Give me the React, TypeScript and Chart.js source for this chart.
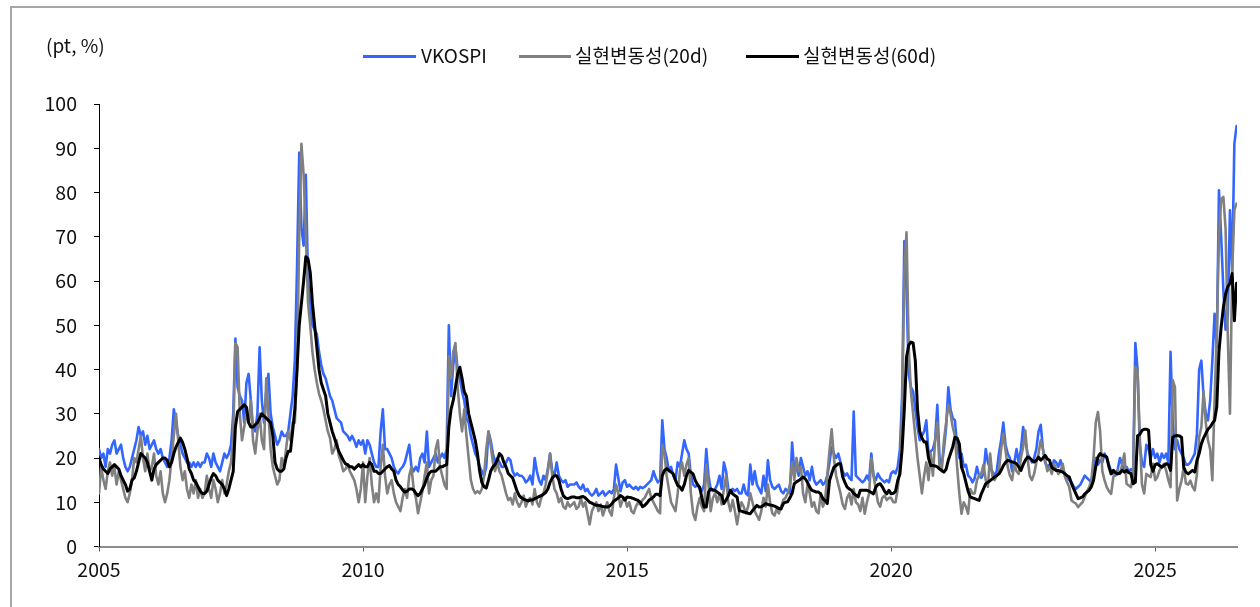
import React, { useEffect, useRef } from "react";
import { Chart, registerables } from "chart.js";

Chart.register(...registerables);

// ---- data (semi-monthly samples, 24 per year, starting Jan 2005) ----
const START_YEAR = 2005;
const POINTS_PER_YEAR = 24;
const X_MIN = 2005;
const X_MAX = 2026.55;
const xTickYears = [2005, 2010, 2015, 2020, 2025];
const Y_MIN = 0;
const Y_MAX = 100;
const Y_STEP = 10;
const unitLabel = "(pt, %)";
const seriesNames = ["VKOSPI", "실현변동성(20d)", "실현변동성(60d)"];

const vkospi = [
  22, 20, 21, 18, 22, 21, 23, 24, 21, 22, 23, 20, 18, 17, 18, 20, 22, 24, 27, 25, 26, 23, 25, 22, // 2005
  23, 24, 22, 21, 22, 20, 19, 18, 20, 24, 31, 28, 25, 23, 21, 20, 19, 19, 18, 19, 18, 19, 18, 19, // 2006
  19, 21, 20, 18, 21, 19, 18, 17, 19, 21, 20, 21, 23, 30, 47, 36, 34, 33, 28, 37, 39, 33, 27, 26, // 2007
  30, 45, 33, 28, 35, 39, 30, 27, 25, 23, 24, 26, 25, 25, 26, 30, 34, 42, 63, 89, 72, 68, 84, 60, // 2008
  55, 50, 49, 48, 44, 41, 39, 38, 36, 34, 33, 31, 29, 28.5, 28, 26, 25.5, 25, 24, 25, 24, 22.5, 24, 23, // 2009
  24, 21, 24, 23, 21, 19, 18, 18, 26, 31, 22, 22, 21, 20, 18, 17, 16.5, 17.5, 18, 19, 21, 23, 18, 17, // 2010
  18, 17, 20, 21, 19, 26, 18, 19, 20, 21, 19, 20, 21, 20, 22, 50, 34, 41, 45, 40, 38, 35, 33, 29, // 2011
  28, 25, 23, 21, 20, 18, 17, 16, 18, 26, 24, 21, 19, 20, 19, 18, 18, 19, 20, 19.5, 17, 16, 16.5, 16, // 2012
  16, 15.5, 14.5, 15, 16, 14, 20, 17, 15, 14, 16, 15, 17.5, 21, 17, 16, 19, 16, 15, 14.5, 15, 13.5, 14, 14, // 2013
  14, 14.5, 13.5, 13, 14, 12.5, 13, 12, 11.5, 12, 13, 11.5, 12, 12.5, 11.5, 12, 12.5, 12, 13, 18.5, 15.5, 12.5, 14.5, 15, // 2014
  13.5, 14, 13.4, 13, 13.5, 12.8, 13.5, 13.2, 13.5, 14, 14.5, 15, 17, 15.5, 14.5, 15, 28.5, 22, 20, 17, 18, 16, 15, 19, // 2015
  18, 21, 24, 22, 21, 16, 14, 13.5, 14, 13, 12.5, 14, 22, 16, 13, 12.5, 13, 14, 16, 13, 19, 17, 13, 12.5, // 2016
  13, 12.5, 13, 12, 12, 14, 12, 11.5, 18.5, 14, 17, 14, 13, 12, 16, 12.5, 19.5, 15, 13.5, 13, 13.5, 14, 12.5, 12, // 2017
  13, 12.5, 12, 23.5, 17, 18, 16, 20, 18, 16, 17, 15, 18, 15, 14, 14.5, 15, 14, 14.5, 16, 19, 22.5, 21, 20, // 2018
  21, 19, 17, 16, 16.5, 15.5, 15, 30.5, 16, 15.5, 15, 14.5, 15, 16, 15, 21, 16, 15, 16.5, 15.5, 15, 14.5, 15, 14.5, // 2019
  16.5, 17, 16.5, 18, 22, 34, 69, 58, 39, 36, 35, 31, 27, 24, 25, 26, 28.5, 21, 21.5, 22, 24, 32, 20, 18.5, // 2020
  22, 27, 36, 31, 29, 28.5, 22.5, 20, 21, 18, 18.5, 16, 15.5, 14.5, 15.5, 18, 16, 15.5, 16.5, 22, 19, 17.5, 17, 16, // 2021
  17, 21, 24, 28, 23, 21, 20, 17, 19, 22, 19, 22, 27, 24, 21, 20, 19, 20, 22, 26, 27.5, 22, 19, 18, // 2022
  18.5, 17, 19.5, 19, 18, 19.5, 17.5, 16.5, 15.5, 15, 14.5, 13.5, 13, 13.5, 14, 15, 16, 15.5, 15, 14.5, 17.5, 20, 18.5, 19.5, // 2023
  19, 21, 20, 18.5, 17, 16.5, 16, 17.5, 20, 18.5, 17, 18, 17, 17.5, 17, 46, 40, 23, 19, 18, 23, 22, 20, 22, // 2024
  20, 21, 19, 21, 20, 21, 19, 44, 28, 22, 24, 22, 21, 20, 18.5, 18.5, 19, 20, 21, 25.5, 40, 42, 34, 30, // 2025
  28.5, 33, 42, 52.6, 45, 80.5, 70, 58, 49, 52, 76, 62, 91, 95, // 2026
];

const rv20 = [
  12, 18, 15, 13, 17, 19, 16, 18, 14, 17, 15, 13, 11, 10, 12, 15, 20, 19, 22, 25, 20, 17, 21, 17, // 2005
  18, 21, 16, 14, 17, 12, 10, 12, 15, 20, 25, 30, 24, 18, 15, 17, 13, 11, 14, 12, 15, 11, 13, 11, // 2006
  12, 16, 13, 11, 15, 13, 10, 12, 15, 12, 14, 17, 19, 25, 46, 45, 30, 24, 27, 30, 28, 33, 24, 21, // 2007
  26, 30, 24, 22, 38, 30, 22, 18, 16, 14, 15, 20, 18, 22, 26, 24, 28, 28, 40, 70, 91, 84, 71, 55, // 2008
  50, 44, 40, 37, 34.5, 33, 31, 28.5, 26, 24.5, 21, 22, 24, 20.5, 19, 17, 17.5, 18.5, 17, 16, 15, 13, 10, 13, // 2009
  19, 10, 16, 20, 14, 10, 12, 10, 18, 23, 16, 12, 14, 15, 12, 10, 9, 8, 11, 13, 11, 16, 18, 13, // 2010
  11, 7.5, 10, 12.5, 16, 19, 12, 15, 16, 22, 24, 18, 16, 14, 13, 43, 38, 44, 46, 36, 30, 26, 31, 25, // 2011
  20, 15, 13, 12, 12.5, 12, 13, 16, 22, 26, 23, 19, 17, 19, 17, 16, 14, 12, 10.5, 11, 9.5, 12, 10, 9, // 2012
  10, 11.5, 9, 10.5, 11, 9.5, 13, 10, 9, 11, 12, 14, 17, 21, 16, 13, 12, 10, 11, 9, 8.5, 10, 9, 9.5, // 2013
  10, 8.5, 9, 11, 9, 10, 7.5, 5, 8, 9, 10, 8, 9.5, 7, 8.5, 10, 8, 7, 11, 14, 12, 9, 10.5, 11, // 2014
  9, 10, 8, 7.5, 9, 10, 9.5, 10.5, 11, 12, 13, 11, 10, 9, 8, 7.5, 23, 21, 16, 13, 10, 9, 8, 12, // 2015
  17, 19, 16, 18.5, 20, 12, 7.5, 6, 9, 11, 9, 8, 18.5, 14, 8, 11, 12, 10, 12, 9.5, 13, 16, 10, 8, // 2016
  10.5, 8, 5, 8, 10, 9, 7.5, 9, 12, 10, 8, 7, 6, 8, 11, 9, 14, 10, 7.5, 7, 8.5, 7.5, 9, 10.5, // 2017
  11, 12, 14, 19, 15, 20, 17, 18, 12, 10, 14, 12, 9, 10, 8, 7.5, 12, 9, 10.5, 16, 21.7, 26.5, 20, 16, // 2018
  14, 12, 9.5, 8.5, 11, 12, 9.5, 13, 10, 9.5, 8, 11, 7.4, 10, 12, 20, 16, 13, 10, 9, 11, 11.5, 10.5, 11, // 2019
  11, 10, 10, 13, 18, 30, 62, 71, 45, 35, 30, 25, 20, 16, 12, 16, 19, 15, 21, 16, 24, 28, 18, 17, // 2020
  24, 28, 32, 30, 27, 25, 18, 12, 7.4, 10, 9, 7.4, 13, 12, 12, 15, 16, 16.5, 18.5, 15, 13.5, 21, 16, 15, // 2021
  16, 17, 22, 25.5, 21.7, 18, 16, 15, 18.7, 17, 16.4, 20, 22.5, 26.2, 20, 16, 15, 16.4, 19, 21, 24, 22, 19.5, 17, // 2022
  18, 16.4, 18.7, 17.5, 16.4, 17, 18.7, 15.7, 14.5, 13.4, 10.4, 10, 9.7, 8.9, 9.5, 10, 11.2, 12.5, 13.4, 14.9, 20, 28, 30.4, 26, // 2023
  17, 15, 13.4, 12.5, 11.9, 15.7, 16.5, 17.2, 16.4, 18.5, 21, 14.2, 13.8, 13.4, 16.4, 40.6, 39.8, 25, 14, 12, 16.4, 16, 15.7, 18.7, // 2024
  15, 15.7, 17.2, 18, 18.7, 17.2, 15, 13.4, 37.6, 36, 10.4, 13, 14.9, 17.9, 14.2, 14, 14.9, 13.5, 12.7, 16.4, 24.7, 27, 35, 28, // 2025
  24, 22, 15, 33, 48, 70, 78.5, 79, 72, 48, 30, 62, 76, 77.5, // 2026
];

const rv60 = [
  20, 18.5, 17.5, 17, 16.5, 17.5, 18, 18.5, 18, 17.5, 16, 15, 14, 12.5, 13, 15, 15.5, 17, 19, 21, 20.5, 20, 19, 17, // 2005
  15, 17.5, 18.5, 19, 19.5, 20, 20, 19.5, 18, 19, 21, 22.5, 23.5, 24.5, 23.5, 22, 20, 17.5, 16.5, 15, 14.5, 13.5, 12.5, 12, // 2006
  12, 12.5, 14, 15.5, 16.5, 16, 15, 14.5, 14, 13, 11.5, 13, 15, 17, 27, 30.5, 31, 31.5, 32, 31.5, 28, 27, 27, 27.5, // 2007
  28, 29, 30, 29.5, 29, 28.5, 28, 25, 19, 17.5, 17, 17, 17.5, 20, 21.5, 21.5, 26, 31, 40, 50, 55, 60, 65.5, 65, // 2008
  62, 55, 50, 45, 40, 37, 35.5, 34, 30, 28, 26, 24.5, 23, 21.5, 20.5, 19.5, 18.7, 18.5, 18, 18, 17.5, 18, 18.5, 18, // 2009
  18.5, 18, 18, 19, 18.5, 17, 17, 16.5, 16.5, 17, 17.5, 18, 18.3, 17.5, 17, 15, 14, 13.5, 12.8, 12.3, 12.5, 13, 13, 12.8, // 2010
  12, 11.5, 12, 13, 14, 15.5, 16.5, 17, 17, 17, 17.5, 18, 18, 18.3, 18.5, 27, 31, 33, 36, 39, 40.5, 38, 35, 34, // 2011
  30, 28, 26, 24, 21, 17, 14.5, 13.5, 13.2, 15, 17, 18, 18.5, 19.5, 21, 20.5, 19, 18, 16.5, 16, 15.5, 14, 12.5, 11.5, // 2012
  11, 10.7, 10.5, 10.3, 10.5, 10.5, 10.8, 11, 11.3, 11.5, 11.8, 12.2, 13, 14.5, 15.5, 16, 16, 15, 13, 11.5, 11, 10.8, 11, 11.2, // 2013
  11.2, 11, 11, 11.2, 11.3, 11, 10.5, 10, 9.8, 9.5, 9.3, 9.3, 9.2, 9, 9, 8.9, 9.1, 9.6, 10.3, 10.6, 11, 11.5, 11.2, 10.5, // 2014
  11.2, 11.1, 11, 10.8, 10.6, 10.4, 10, 9, 9.3, 9.8, 10.5, 10.8, 11.2, 11.8, 11.8, 11.5, 16, 17.2, 17.6, 17.2, 16.8, 16.4, 15, 13.8, // 2015
  13.5, 12.7, 14, 16, 17.2, 16.8, 16.4, 14.9, 14, 13.4, 11, 8.9, 8.9, 12.3, 13, 12.8, 12.7, 12.3, 11.9, 11.5, 9.7, 10.5, 11.5, 12.7, // 2016
  11.9, 11.5, 11.2, 8.1, 8, 7.8, 7.7, 7.5, 7.4, 8.1, 8.7, 9.3, 8.9, 9, 9.3, 9.7, 9.5, 9.4, 9.3, 9.1, 8.9, 8.6, 8.5, 9.7, // 2017
  10, 10.1, 11, 12, 14.2, 14.6, 14.9, 15.3, 15.7, 15.3, 14.5, 13.4, 12.7, 12.5, 12.3, 12.3, 11.9, 10.8, 10.4, 9.7, 14.9, 16.5, 17.9, 18.3, // 2018
  18.7, 18.7, 15.7, 14.5, 13.4, 13, 12.7, 12, 11.6, 11.2, 12.7, 12.7, 12.7, 12.7, 12.5, 12.2, 11.9, 13.4, 14, 14.2, 13.5, 12.5, 11.9, 12.7, // 2019
  11.9, 12, 12.5, 14.9, 16.4, 22, 31, 42.8, 45.5, 46.2, 46, 42, 31, 26, 24.5, 23.6, 23.6, 20, 18.3, 18.3, 18.2, 18, 17.5, 17.2, // 2020
  16.8, 17.5, 19.5, 21, 22.5, 24.7, 24.5, 23.2, 17.9, 16.5, 14.5, 12.5, 11.2, 11, 10.8, 10.6, 10.4, 11.9, 13, 14.2, 14.5, 14.9, 15.3, 15.7, // 2021
  16, 16.4, 17.2, 18.3, 19, 19.5, 19.3, 19.1, 19, 18.7, 18, 17.2, 18.5, 19.5, 20.2, 20, 19.5, 19.1, 19.5, 20.2, 19.5, 20, 20.6, 19.8, // 2022
  19.5, 17.9, 17.5, 17.2, 17.2, 17, 16.8, 16.4, 16, 15.7, 14.2, 13, 11.9, 10.8, 11, 11.2, 11.9, 12.3, 12.7, 13.5, 14.9, 18, 20.2, 21, // 2023
  20.6, 20.5, 20.2, 18, 16.4, 17.2, 16.7, 16.4, 16.6, 17.2, 16.8, 17.2, 16.7, 16.5, 14.2, 14.5, 25, 25.3, 26.2, 26.5, 26.5, 26.3, 18.5, 17, // 2024
  18.5, 18.7, 18.3, 17.9, 18.3, 18.7, 18.5, 17.2, 24.7, 25, 25.1, 25, 24.7, 17.9, 16.8, 16.4, 16.8, 17.2, 16.8, 19.5, 21, 23.2, 24.5, 25.5, // 2025
  26.5, 27, 27.8, 28.5, 31.5, 44, 49.6, 54, 57, 58.7, 59.5, 61.7, 51, 59.5, // 2026
];

// ---- styles ----
const BLUE = "#3366ff";
const GRAY = "#808080";
const BLACK = "#000000";
const FONT_FAMILY = "'Noto Sans CJK KR', 'Noto Sans', sans-serif";

const toPoints = (vals: number[]) =>
  vals.map((y, i) => ({ x: START_YEAR + i / POINTS_PER_YEAR, y }));

const legendItems = [
  { name: seriesNames[0], color: BLUE, lineLeft: 363, lineWidth: 53, textLeft: 421 },
  { name: seriesNames[1], color: GRAY, lineLeft: 519, lineWidth: 52, textLeft: 575 },
  { name: seriesNames[2], color: BLACK, lineLeft: 746, lineWidth: 53, textLeft: 803 },
];

export default function App() {
  const canvasRef = useRef<HTMLCanvasElement | null>(null);

  useEffect(() => {
    const canvas = canvasRef.current;
    if (!canvas) return;
    const tickFont = { family: FONT_FAMILY, size: 19.5 };
    const chart = new Chart(canvas, {
      type: "line",
      data: {
        datasets: [
          {
            label: seriesNames[0],
            data: toPoints(vkospi),
            borderColor: BLUE,
            backgroundColor: BLUE,
            borderWidth: 2.6,
            order: 3,
          },
          {
            label: seriesNames[1],
            data: toPoints(rv20),
            borderColor: GRAY,
            backgroundColor: GRAY,
            borderWidth: 2.6,
            order: 2,
          },
          {
            label: seriesNames[2],
            data: toPoints(rv60),
            borderColor: BLACK,
            backgroundColor: BLACK,
            borderWidth: 3,
            order: 1,
          },
        ],
      },
      options: {
        animation: false,
        responsive: false,
        maintainAspectRatio: false,
        events: [],
        elements: {
          point: { radius: 0 },
          line: { tension: 0, borderJoinStyle: "round", borderCapStyle: "round", fill: false },
        },
        layout: { padding: { left: 29, right: 23, top: 104, bottom: 20.5 } },
        plugins: {
          legend: { display: false },
          tooltip: { enabled: false },
          title: { display: false },
        },
        scales: {
          x: {
            type: "linear",
            min: X_MIN,
            max: X_MAX,
            afterBuildTicks: (scale: any) => {
              scale.ticks = xTickYears.map((v) => ({ value: v }));
            },
            afterFit: (scale: any) => {
              scale.height = 40;
            },
            ticks: {
              callback: (v: any) => String(v),
              font: tickFont,
              color: "#111",
              padding: 6,
              maxRotation: 0,
              autoSkip: false,
            },
            grid: {
              display: true,
              drawOnChartArea: false,
              drawTicks: true,
              tickLength: 5,
              color: "#555",
              lineWidth: 1,
            },
            border: { display: true, color: "#8c8c8c", width: 2 },
          },
          y: {
            type: "linear",
            min: Y_MIN,
            max: Y_MAX,
            afterFit: (scale: any) => {
              scale.width = 70;
            },
            ticks: {
              stepSize: Y_STEP,
              font: tickFont,
              color: "#111",
              padding: 17,
            },
            grid: {
              display: true,
              drawOnChartArea: false,
              drawTicks: true,
              tickLength: 5,
              color: "#000",
              lineWidth: 1,
            },
            border: { display: true, color: "#000", width: 1 },
          },
        },
      },
    });
    return () => chart.destroy();
  }, []);

  return (
    <div
      style={{
        position: "absolute",
        left: 0,
        top: 0,
        width: 1260,
        height: 607,
        overflow: "hidden",
        background: "#fff",
        fontFamily: FONT_FAMILY,
        color: "#111",
      }}
    >
      <div
        style={{
          position: "absolute",
          left: 10,
          top: 6,
          width: 1300,
          height: 700,
          borderLeft: "2px solid #a6a6a6",
          borderTop: "2px solid #a6a6a6",
        }}
      />
      <canvas
        ref={canvasRef}
        width={1260}
        height={607}
        style={{ position: "absolute", left: 0, top: 0, width: 1260, height: 607 }}
      />
      <div
        style={{
          position: "absolute",
          left: 46,
          top: 33,
          fontSize: 19,
          lineHeight: "24px",
          whiteSpace: "nowrap",
        }}
      >
        {unitLabel}
      </div>
      {legendItems.map((it) => (
        <React.Fragment key={it.name}>
          <div
            style={{
              position: "absolute",
              left: it.lineLeft,
              top: 54.5,
              width: it.lineWidth,
              height: 3,
              background: it.color,
            }}
          />
          <div
            style={{
              position: "absolute",
              left: it.textLeft,
              top: 42.5,
              fontSize: 19,
              lineHeight: "24px",
              whiteSpace: "nowrap",
            }}
          >
            {it.name}
          </div>
        </React.Fragment>
      ))}
    </div>
  );
}
